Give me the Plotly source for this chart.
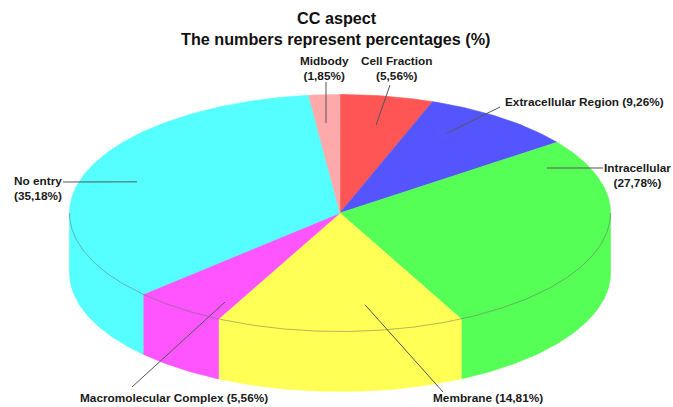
import math
import plotly.graph_objects as go

# ---- data ----
categories = ["Cell Fraction", "Extracellular Region", "Intracellular", "Membrane",
              "Macromolecular Complex", "No entry", "Midbody"]
values = [5.56, 9.26, 27.78, 14.81, 5.56, 35.18, 1.85]
colors = ["#FF5555", "#5555FF", "#55FF55", "#FFFF55", "#FF55FF", "#55FFFF", "#FFAAAA"]

title_lines = ["CC aspect", "The numbers represent percentages (%)"]

# ---- layout / geometry (pixels) ----
W, H = 673, 407
CX, CY = 340.0, 213.0      # pie centre on screen
RA, RB = 270.5, 118.5      # ellipse semi-axes of the top face
DEPTH = 60.0               # thickness of the pie

def proj(theta_deg, r=1.0, dz=0.0):
    t = math.radians(theta_deg)
    return CX + RA * r * math.sin(t), CY - RB * r * math.cos(t) + dz

def arc(t0, t1, dz=0.0, step=1.0):
    n = max(2, int(abs(t1 - t0) / step) + 2)
    pts = [proj(t0 + (t1 - t0) * i / (n - 1), 1.0, dz) for i in range(n)]
    return [p[0] for p in pts], [p[1] for p in pts]

total = sum(values)
starts, ends = [], []
acc = 0.0
for v in values:
    starts.append(acc / total * 360.0)
    acc += v
    ends.append(acc / total * 360.0)

fig = go.Figure()

# side faces (front half only: 90..270 deg)
for s, e, c in zip(starts, ends, colors):
    a0, a1 = max(s, 90.0), min(e, 270.0)
    if a1 <= a0:
        continue
    xt, yt = arc(a0, a1)
    xb, yb = arc(a0, a1, DEPTH)
    xs = xt + xb[::-1] + [xt[0]]
    ys = yt + yb[::-1] + [yt[0]]
    fig.add_trace(go.Scatter(x=xs, y=ys, mode="lines", fill="toself",
                             fillcolor=c, line=dict(color=c, width=0.6),
                             hoverinfo="skip", showlegend=False))

# top faces
for s, e, c in zip(starts, ends, colors):
    xa, ya = arc(s, e)
    xs = [CX] + xa + [CX]
    ys = [CY] + ya + [CY]
    fig.add_trace(go.Scatter(x=xs, y=ys, mode="lines", fill="toself",
                             fillcolor=c, line=dict(color=c, width=0.6),
                             hoverinfo="skip", showlegend=False))

# edge between top face and side
xa, ya = arc(90, 270)
fig.add_trace(go.Scatter(x=xa, y=ya, mode="lines",
                         line=dict(color="rgba(90,90,90,0.45)", width=1),
                         hoverinfo="skip", showlegend=False))

# ---- labels with leader lines ----
label_layout = [
    dict(anchor=(10.2, 0.755), outer=(390, 85), text=(396, 68), xanchor="center", two=True),
    dict(anchor=(30.4, 0.78), outer=(500, 107), text=(503, 102), xanchor="left", two=False),
    dict(anchor=(63.6, 0.854), outer=(603, 168), text=(637, 175), xanchor="center", two=True),
    dict(anchor=(173.2, 0.78), outer=(443, 392), text=(488, 398), xanchor="center", two=False),
    dict(anchor=(209.5, 0.863), outer=(132, 387), text=(174, 398), xanchor="center", two=False),
    dict(anchor=(289.3, 0.795), outer=(63, 182), text=(12, 188), xanchor="left", two=True),
    dict(anchor=(356.1, 0.761), outer=(326, 82), text=(324, 68), xanchor="center", two=True),
]

annotations = []
for name, v, L in zip(categories, values, label_layout):
    pct = ("(%.2f%%)" % v).replace(".", ",")
    ax, ay = proj(L["anchor"][0], L["anchor"][1])
    ox, oy = L["outer"]
    fig.add_trace(go.Scatter(x=[ax, ox], y=[ay, oy], mode="lines",
                             line=dict(color="#555555", width=1),
                             hoverinfo="skip", showlegend=False))
    txt = f"<b>{name}</b><br><b>{pct}</b>" if L["two"] else f"<b>{name} {pct}</b>"
    annotations.append(dict(x=L["text"][0], y=L["text"][1], xref="x", yref="y",
                            text=txt, showarrow=False, xanchor=L["xanchor"],
                            yanchor="middle", align="center" if L["xanchor"] == "center" else "left",
                            font=dict(family="Liberation Sans, Arial, sans-serif",
                                      size=11.8, color="#1a1a1a")))

annotations.append(dict(x=337, y=18, xref="x", yref="y", text=f"<b>{title_lines[0]}</b>",
                        showarrow=False, xanchor="center", yanchor="middle",
                        font=dict(family="Liberation Sans, Arial, sans-serif", size=16.2, color="#111111")))
annotations.append(dict(x=335, y=39, xref="x", yref="y", text=f"<b>{title_lines[1]}</b>",
                        showarrow=False, xanchor="center", yanchor="middle",
                        font=dict(family="Liberation Sans, Arial, sans-serif", size=16.2, color="#111111")))

fig.update_layout(
    width=W, height=H,
    margin=dict(l=0, r=0, t=0, b=0),
    paper_bgcolor="white", plot_bgcolor="white",
    xaxis=dict(range=[0, W], visible=False, fixedrange=True),
    yaxis=dict(range=[H, 0], visible=False, fixedrange=True),
    annotations=annotations,
    showlegend=False,
)

fig.write_html("out.html", config={"displayModeBar": False},
               post_script="document.body.style.margin='0px';document.body.style.overflow='hidden';")
